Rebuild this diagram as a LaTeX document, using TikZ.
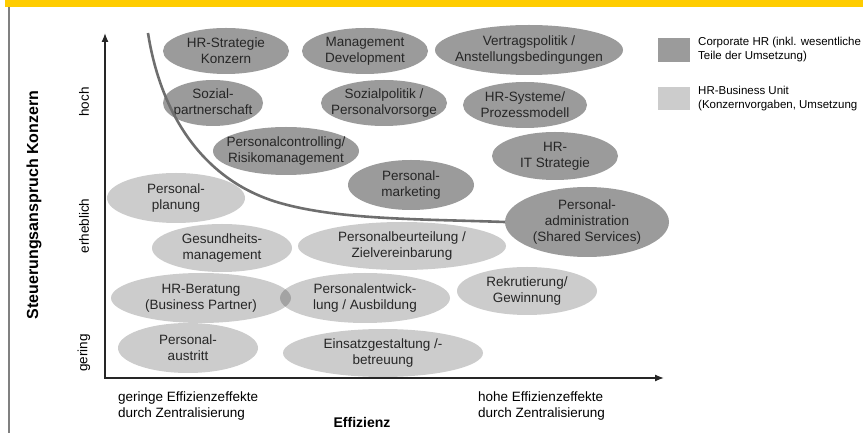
\documentclass[tikz,border=0pt]{standalone}
\usepackage{fontspec}
\setmainfont{Liberation Sans}
\usetikzlibrary{shapes.geometric,arrows.meta}

\definecolor{corpgray}{HTML}{9B9B9B}
\definecolor{linegray}{HTML}{6E6E6E}
\definecolor{barcol}{HTML}{FFCC00}

\tikzset{
  lbl/.style={align=center, inner sep=0pt, text=black!85, text opacity=1,
    font=\fontsize{13.5}{16}\selectfont},
  corp/.style 2 args={ellipse, inner sep=0pt, fill=corpgray,
    minimum width=2*#1, minimum height=2*#2},
  unit/.style 2 args={corp={#1}{#2}, fill=black, fill opacity=0.2},
  axlbl/.style={rotate=90, inner sep=0pt, font=\fontsize{13.5}{16}\selectfont},
  notes/.style={align=left, anchor=west, inner sep=0pt, font=\fontsize{13.5}{15.5}\selectfont},
  legtxt/.style={align=left, anchor=west, inner sep=0pt, font=\fontsize{11.5}{14}\selectfont},
  axis/.style={line width=1.3pt, black!85},
}

\begin{document}
\begin{tikzpicture}[x=1pt,y=-1pt]
\useasboundingbox (0,0) rectangle (863,435);

% frame
\fill[barcol] (5,0) rectangle (863,7);
\draw[gray, line width=1.5pt] (9,7) -- (9,433);

% Corporate HR
\node[corp={63}{23}, label={[lbl]center:HR-Strategie\\Konzern}] (strat) at (226,51) {};
\node[corp={63}{23}, label={[lbl]center:Management\\Development}] (mgmt) at (365,51) {};
\node[corp={94}{25}, label={[lbl]center:Vertragspolitik /\\Anstellungsbedingungen}] (vertrag) at (529,50) {};
\node[corp={50}{23}, label={[lbl]center:Sozial-\\partnerschaft}] (sozpart) at (213,103) {};
\node[corp={63}{23}, label={[lbl]center:Sozialpolitik /\\Personalvorsorge}] (sozpol) at (384,103) {};
\node[corp={62}{23}, label={[lbl]center:HR-Systeme/\\Prozessmodell}] (systeme) at (525,105) {};
\node[corp={73}{24}, label={[lbl]center:Personalcontrolling/\\Risikomanagement}] (controlling) at (286,151) {};
\node[corp={63}{24}, label={[lbl]center:HR-\\IT Strategie}] (itstrat) at (555,156) {};
\node[corp={63}{25}, label={[lbl]center:Personal-\\marketing}] (marketing) at (411,185) {};
\node[corp={82}{35}, label={[lbl]center:Personal-\\administration\\(Shared Services)}] (admin) at (587,222) {};

% HR-Business Unit
\node[unit={69}{25}, label={[lbl]center:Personal-\\planung}] (planung) at (176,198) {};
\node[unit={70}{24}, label={[lbl]center:Gesundheits-\\management}] (gesund) at (222,248) {};
\node[unit={104}{24}, label={[lbl]center:Personalbeurteilung /\\Zielvereinbarung}] (beurteilung) at (402,246) {};
\node[unit={90}{25}, label={[lbl]center:HR-Beratung\\(Business Partner)}] (beratung) at (201,298) {};
\node[unit={85}{25}, label={[lbl]center:Personalentwick-\\lung / Ausbildung}] (entwicklung) at (365,298) {};
\node[unit={70}{24}, label={[lbl]center:Rekrutierung/\\Gewinnung}] (rekrut) at (527,291) {};
\node[unit={70}{25}, label={[lbl]center:Personal-\\austritt}] (austritt) at (188,348) {};
\node[unit={100}{24}, label={[lbl]center:Einsatzgestaltung /-\\betreuung}] (einsatz) at (383,353) {};

% border line
\draw[linegray, line width=2.6pt] (148,33) .. controls (160,110) and (200,180) .. (280,203)
  .. controls (340,220) and (420,219) .. (admin.west);

% axes
\coordinate (orig) at (105,378);
\coordinate (ytip) at (105,33);
\coordinate (xtip) at (664,378);
\draw[axis, {Latex[length=9pt,width=7pt]}-{Latex[length=9pt,width=7pt]}] (ytip) -- (orig) -- (xtip);

\node[axlbl] (hoch) at (84,102) {hoch};
\node[axlbl] (erheblich) at (84,226) {erheblich};
\node[axlbl] (gering) at (84,353) {gering};
\node[rotate=90, inner sep=0pt, font=\fontsize{16}{18}\selectfont\bfseries] (ylabel) at (34,205) {Steuerungsanspruch Konzern};

\node[notes] (low) at (118,406) {geringe Effizienzeffekte\\durch Zentralisierung};
\node[notes] (high) at (478,406) {hohe Effizienzeffekte\\durch Zentralisierung};
\node[inner sep=0pt, font=\fontsize{14}{16}\selectfont\bfseries] (xlabel) at (362,422) {Effizienz};

% legend
\fill[corpgray] (658,38) rectangle (690,62);
\fill[black, fill opacity=0.2] (658,87) rectangle (690,110);
\node[legtxt] (corplbl) at (698,50) {Corporate HR (inkl. wesentliche\\Teile der Umsetzung)};
\node[legtxt] (unitlbl) at (698,99) {HR-Business Unit\\(Konzernvorgaben, Umsetzung};
\end{tikzpicture}
\end{document}
